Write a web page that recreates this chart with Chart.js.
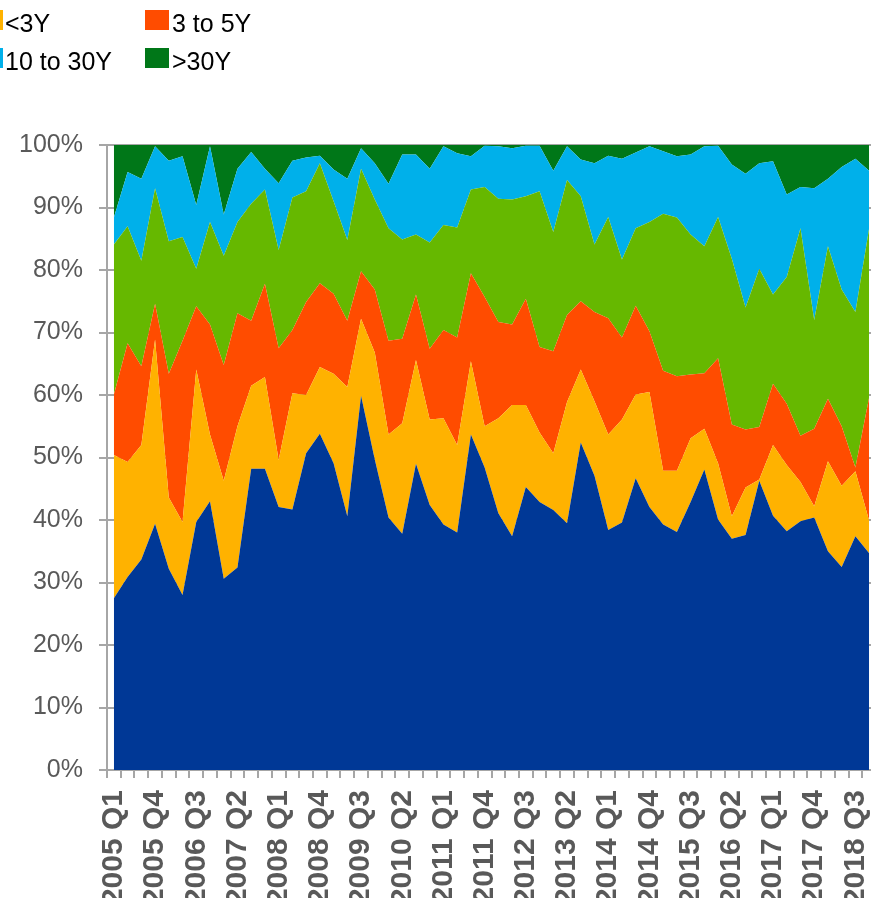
<!DOCTYPE html>
<html><head><meta charset="utf-8">
<script src="https://cdn.jsdelivr.net/npm/chart.js@4"></script>
<style>
html,body{margin:0;padding:0;background:#fff;overflow:hidden;width:871px;height:898px;}
#wrap{position:absolute;left:0;top:0;width:871px;height:898px;overflow:hidden;background:#fff;}
#legend{position:absolute;left:0;top:0;width:871px;height:80px;font-family:"Liberation Sans",Arial,sans-serif;font-size:25px;color:#000;}
.box{position:absolute;width:24px;height:20px;}
.txt{position:absolute;line-height:25px;white-space:nowrap;}
canvas{position:absolute;left:0;top:0;}
</style></head>
<body><div id="wrap"><canvas id="c" width="880" height="898"></canvas><div id="legend"></div></div>
<script>
const categories = ["2005 Q1","2005 Q2","2005 Q3","2005 Q4","2006 Q1","2006 Q2","2006 Q3","2006 Q4",
"2007 Q1","2007 Q2","2007 Q3","2007 Q4","2008 Q1","2008 Q2","2008 Q3","2008 Q4",
"2009 Q1","2009 Q2","2009 Q3","2009 Q4","2010 Q1","2010 Q2","2010 Q3","2010 Q4",
"2011 Q1","2011 Q2","2011 Q3","2011 Q4","2012 Q1","2012 Q2","2012 Q3","2012 Q4",
"2013 Q1","2013 Q2","2013 Q3","2013 Q4","2014 Q1","2014 Q2","2014 Q3","2014 Q4",
"2015 Q1","2015 Q2","2015 Q3","2015 Q4","2016 Q1","2016 Q2","2016 Q3","2016 Q4",
"2017 Q1","2017 Q2","2017 Q3","2017 Q4","2018 Q1","2018 Q2","2018 Q3","2018 Q4"];

const seriesNames = ["Other","<3Y","3 to 5Y","5 to 10Y","10 to 30Y",">30Y"];

const sOther = [27.5,30.9,33.7,39.4,32.2,28.0,39.7,43.0,30.6,32.4,48.2,48.2,42.1,41.7,
50.7,53.8,49.1,40.6,59.9,49.7,40.4,37.8,49.0,42.4,39.3,38.0,53.7,48.4,
41.1,37.4,45.3,42.9,41.6,39.5,52.4,47.1,38.4,39.6,46.7,42.1,39.3,38.1,
42.9,48.1,40.1,37.0,37.6,46.3,40.7,38.2,39.8,40.4,35.0,32.5,37.4,34.7];

const sLt3 = [22.9,18.4,18.3,29.5,11.4,11.7,24.4,10.7,15.7,22.6,13.3,14.7,7.5,18.6,
9.3,10.7,14.3,20.7,12.3,17.1,13.3,17.7,16.6,13.7,17.0,14.0,11.7,6.6,
15.2,21.0,13.1,11.1,9.1,19.4,11.7,11.9,15.3,16.5,13.4,18.4,8.6,9.8,
10.2,6.5,9.0,3.6,7.6,0.2,11.3,10.6,6.3,1.8,14.4,13.0,10.4,5.2];

const s3to5 = [9.7,19.0,12.6,5.7,19.8,29.0,10.1,17.6,18.5,18.1,10.4,14.9,17.9,10.1,
14.9,13.4,12.8,10.6,7.6,10.1,15.0,13.5,10.5,11.3,14.1,17.2,14.1,20.7,
15.4,12.9,17.0,13.7,16.3,13.9,10.9,14.3,18.6,13.1,14.2,9.7,16.0,15.1,
10.2,8.9,16.8,14.7,9.3,8.4,9.8,9.8,7.4,12.4,10.0,9.5,0.6,19.7];

const s5to10 = [24.0,18.7,16.9,18.5,21.2,16.6,6.0,16.4,17.5,14.6,18.7,15.1,15.7,21.2,
17.7,19.2,14.8,12.9,16.4,14.4,18.0,15.9,9.6,17.0,16.8,17.6,13.4,17.6,
19.7,20.0,16.4,24.9,19.1,21.6,16.8,10.8,16.2,12.5,12.4,17.5,25.1,25.4,
22.4,20.3,22.6,26.5,19.5,25.3,14.3,20.3,33.2,17.4,24.4,21.9,24.9,27.1];

const s10to30 = [4.3,8.7,13.1,6.7,12.9,12.9,10.2,12.1,6.6,8.5,8.3,3.3,10.7,5.9,
5.4,1.2,5.1,9.8,3.3,5.8,7.1,13.6,12.8,11.8,12.6,11.9,5.3,6.6,
8.4,8.2,8.1,7.3,9.8,5.4,5.9,13.0,9.8,16.1,12.1,12.1,10.0,9.8,
12.8,16.0,11.4,15.1,21.4,16.9,21.3,13.2,6.6,21.1,10.8,19.6,24.5,9.2];

const sGt30 = [11.6,4.3,5.4,0.2,2.5,1.8,9.6,0.2,11.1,3.8,1.1,3.8,6.1,2.5,
2.0,1.7,3.9,5.4,0.5,2.9,6.2,1.5,1.5,3.8,0.2,1.3,1.8,0.1,
0.2,0.5,0.1,0.1,4.1,0.2,2.3,2.9,1.7,2.2,1.2,0.2,1.0,1.8,
1.5,0.2,0.1,3.1,4.6,2.9,2.6,7.9,6.7,6.9,5.4,3.5,2.2,4.1];

const yTickValues = [0,10,20,30,40,50,60,70,80,90,100];

const seriesData = [sOther, sLt3, s3to5, s5to10, s10to30, sGt30];
const colors = ['#003896','#FFB200','#FF4C00','#66B800','#00B0EA','#007718'];
const fontFam = '"Liberation Sans", Arial, Helvetica, sans-serif';

const ctx = document.getElementById('c').getContext('2d');
const chart = new Chart(ctx, {
  type: 'line',
  data: {
    labels: categories,
    datasets: seriesNames.map((n, k) => ({
      label: n,
      data: seriesData[k],
      backgroundColor: colors[k],
      borderColor: colors[k],
      borderWidth: 0,
      pointRadius: 0,
      pointHoverRadius: 0,
      tension: 0,
      fill: k === 0 ? 'origin' : '-1'
    }))
  },
  options: {
    responsive: false,
    animation: false,
    events: [],
    layout: { padding: { top: 145, left: 0, right: 4, bottom: 0 } },
    plugins: { legend: { display: false }, tooltip: { enabled: false } },
    scales: {
      x: {
        type: 'category',
        offset: true,
        grid: { offset: true, drawOnChartArea: false, drawTicks: true, tickLength: 8, color: '#A6A6A6', lineWidth: 2 },
        border: { display: true, color: '#A6A6A6', width: 2 },
        ticks: {
          autoSkip: false, maxRotation: 90, minRotation: 90, padding: 12,
          color: '#595959',
          font: { family: fontFam, size: 30, weight: 'bold' },
          callback: (v, i) => (i % 3 === 0 ? categories[i] : '')
        },
        afterFit: s => { s.height = 128; s.paddingLeft = 0; s.paddingRight = 0; }
      },
      y: {
        stacked: true,
        min: 0, max: 100,
        afterBuildTicks: s => { s.ticks = yTickValues.map(v => ({ value: v })); },
        grid: { color: '#A6A6A6', lineWidth: 2, tickLength: 8, drawTicks: true },
        border: { display: true, color: '#A6A6A6', width: 2 },
        ticks: {
          padding: 16, color: '#595959',
          font: { family: fontFam, size: 25 },
          callback: v => v + '%'
        },
        afterFit: s => { s.width = 107; s.paddingTop = 0; s.paddingBottom = 0; }
      }
    }
  }
});

// HTML legend (first column of the original legend lies outside the picture)
const legendSlots = [
  { k: 1, box: [-21, 10], txt: [5, 10.5] },
  { k: 2, box: [145, 10], txt: [172, 10.5] },
  { k: 4, box: [-21, 48], txt: [5, 48.8] },
  { k: 5, box: [145, 48], txt: [172, 48.8] }
];
const leg = document.getElementById('legend');
legendSlots.forEach(sl => {
  const ds = chart.data.datasets[sl.k];
  const b = document.createElement('div');
  b.className = 'box';
  b.style.left = sl.box[0] + 'px'; b.style.top = sl.box[1] + 'px';
  b.style.background = ds.backgroundColor;
  const t = document.createElement('div');
  t.className = 'txt';
  t.style.left = sl.txt[0] + 'px'; t.style.top = sl.txt[1] + 'px';
  t.textContent = ds.label;
  leg.appendChild(b); leg.appendChild(t);
});
</script>
</body></html>
